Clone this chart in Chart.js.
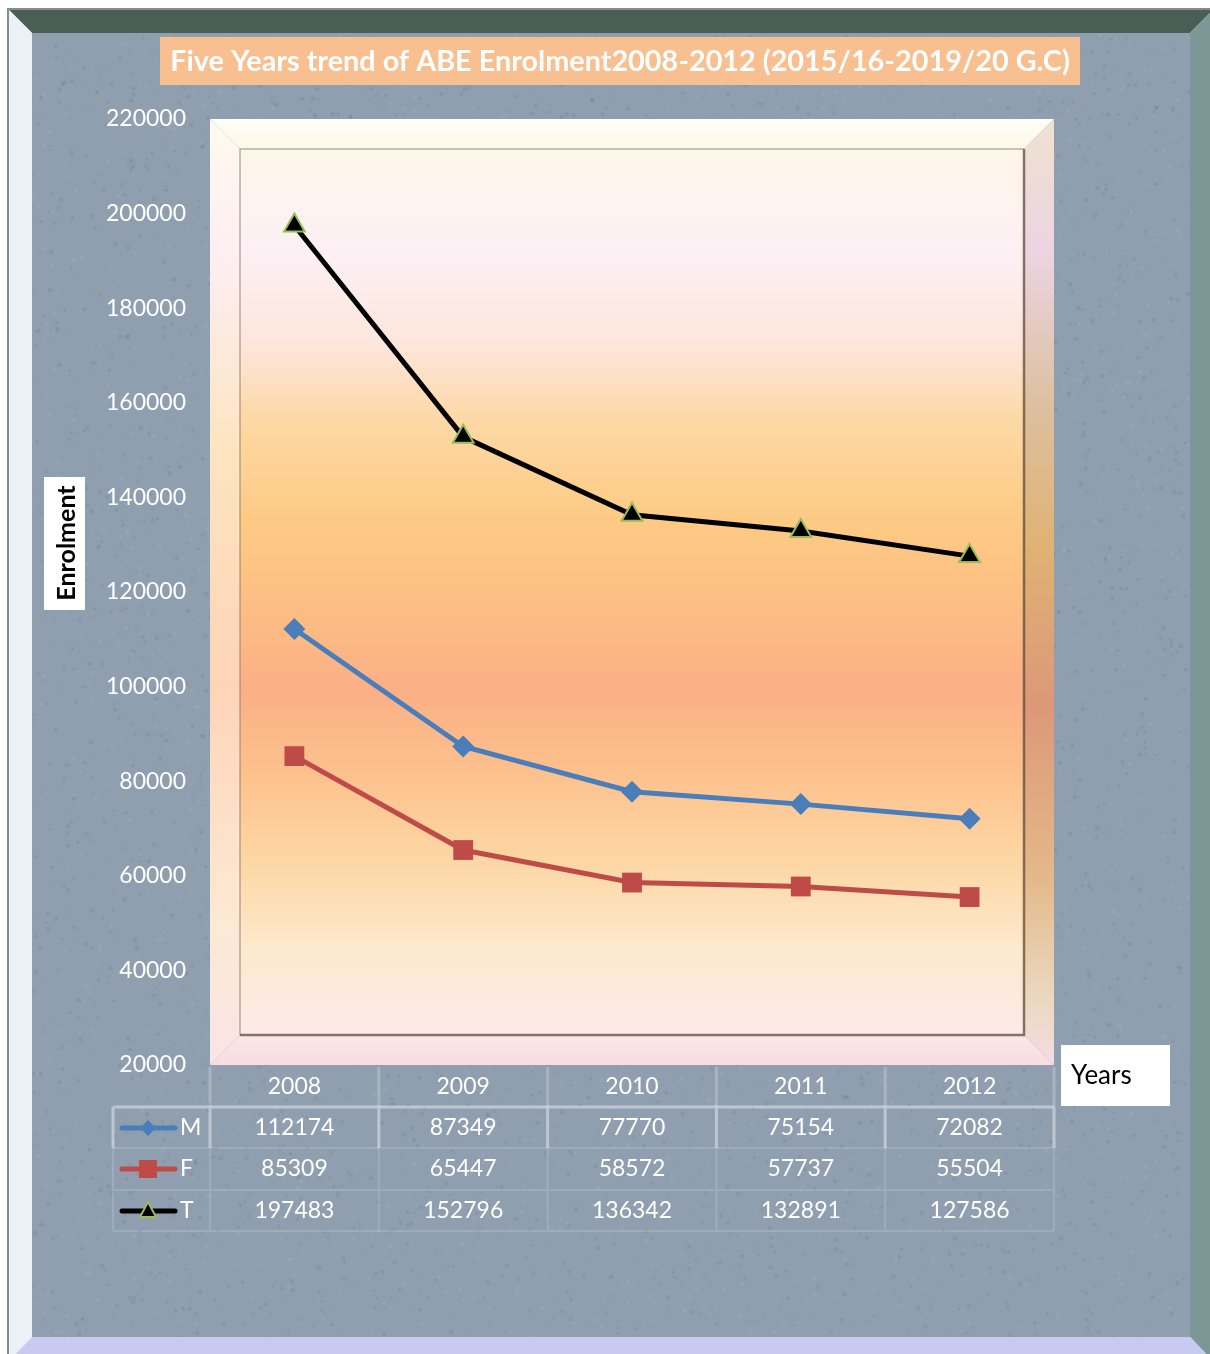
<!DOCTYPE html>
<html>
<head>
<meta charset="utf-8">
<script src="https://cdn.jsdelivr.net/npm/chart.js@4.4.0/dist/chart.umd.min.js"></script>
<style>
  html, body { margin: 0; padding: 0; background: #fff; }
  #wrap { width: 1210px; height: 1354px; position: relative; }
</style>
</head>
<body>
<div id="wrap"><canvas id="enrolment"></canvas></div>
<script>
// data
var years = ["2008", "2009", "2010", "2011", "2012"];
var male = [112174, 87349, 77770, 75154, 72082];
var female = [85309, 65447, 58572, 57737, 55504];
var total = [197483, 152796, 136342, 132891, 127586];
var seriesNames = ["M", "F", "T"];
var yMin = 20000, yMax = 220000, yStep = 20000;
var chartTitle = "Five Years trend of ABE Enrolment2008-2012 (2015/16-2019/20 G.C)";
var yTitle = "Enrolment";
var xTitle = "Years";

var FONT = "Lato, 'Open Sans', sans-serif";
var blue = "#4a7ebb", red = "#be4b48", black = "#000000", green = "#9bbb59";

function poly(ctx, pts, fill) {
  ctx.beginPath();
  ctx.moveTo(pts[0][0], pts[0][1]);
  for (var i = 1; i < pts.length; i++) ctx.lineTo(pts[i][0], pts[i][1]);
  ctx.closePath();
  ctx.fillStyle = fill;
  ctx.fill();
}

function vgrad(ctx, y0, y1, stops) {
  var g = ctx.createLinearGradient(0, y0, 0, y1);
  stops.forEach(function (s) { g.addColorStop(s[0], s[1]); });
  return g;
}

function drawFrame(ctx) {
  ctx.fillStyle = "#ffffff";
  ctx.fillRect(0, 0, 1210, 1354);
  ctx.fillStyle = "#909fb0";
  ctx.fillRect(32, 33, 1158, 1304);
  // stone speckle
  var seed = 7;
  function rnd() { seed = (seed * 16807) % 2147483647; return seed / 2147483647; }
  for (var i = 0; i < 9000; i++) {
    var x = 32 + rnd() * 1158, y = 33 + rnd() * 1304;
    var light = rnd() > 0.5;
    ctx.fillStyle = light ? "rgba(190,200,212,0.12)" : "rgba(60,70,85,0.10)";
    var s = 1 + rnd() * 3;
    ctx.fillRect(x, y, s, s);
  }
  poly(ctx, [[8, 9], [1214, 9], [1190, 33], [32, 33]], "#4b5e56");
  poly(ctx, [[8, 9], [32, 33], [32, 1337], [8, 1362]], "#eaf2f7");
  poly(ctx, [[1214, 9], [1214, 1362], [1190, 1337], [1190, 33]], "#7d9796");
  poly(ctx, [[8, 1362], [32, 1337], [1190, 1337], [1214, 1362]], "#c8caf2");
  ctx.strokeStyle = "#8a8a8a";
  ctx.lineWidth = 2;
  ctx.beginPath();
  ctx.moveTo(8, 1354); ctx.lineTo(8, 9); ctx.lineTo(1210, 9);
  ctx.stroke();
}

function drawPanel(ctx, a) {
  var L = a.left, T = a.top, R = a.right, B = a.bottom, d = 30;
  var h = B - T;
  var mainStops = [
    [0.00, "#fdf6ea"], [0.12, "#fcf0f4"], [0.22, "#fde6dc"], [0.31, "#fdd8a4"],
    [0.42, "#fdca84"], [0.53, "#fcbc84"], [0.61, "#fbaf86"], [0.70, "#fcc08c"],
    [0.80, "#fdd6a2"], [0.90, "#fde9cc"], [1.00, "#fdeaea"]
  ];
  // back face
  ctx.fillStyle = vgrad(ctx, T + d, B - d, mainStops);
  ctx.fillRect(L + d, T + d, R - L - 2 * d, h - 2 * d);
  // bevels
  poly(ctx, [[L, T], [R, T], [R - d, T + d], [L + d, T + d]],
    vgrad(ctx, T, T + d, [[0, "#fffef6"], [1, "#fdf7e8"]]));
  poly(ctx, [[L, T], [L + d, T + d], [L + d, B - d], [L, B]],
    vgrad(ctx, T, B, [[0, "#fffaee"], [0.15, "#fdeef2"], [0.35, "#fde4c0"], [0.6, "#fdd4b8"], [0.85, "#fde9d4"], [1, "#fbe4e6"]]));
  poly(ctx, [[R, T], [R, B], [R - d, B - d], [R - d, T + d]],
    vgrad(ctx, T, B, [[0, "#efe2cf"], [0.14, "#ecd4e2"], [0.3, "#dcc0a0"], [0.45, "#e0b274"], [0.62, "#dc9878"], [0.8, "#e4b888"], [0.93, "#ecd8c0"], [1, "#f3dde2"]]));
  poly(ctx, [[L, B], [L + d, B - d], [R - d, B - d], [R, B]],
    vgrad(ctx, B - d, B, [[0, "#fce6e8"], [1, "#f9dde0"]]));
  // edges of the inner face
  ctx.lineWidth = 1.5;
  ctx.strokeStyle = "rgba(130,115,100,0.55)";
  ctx.beginPath();
  ctx.moveTo(L + d, B - d); ctx.lineTo(L + d, T + d); ctx.lineTo(R - d, T + d);
  ctx.stroke();
  ctx.lineWidth = 2.5;
  ctx.strokeStyle = "rgba(95,75,55,0.75)";
  ctx.beginPath();
  ctx.moveTo(R - d, T + d); ctx.lineTo(R - d, B - d); ctx.lineTo(L + d, B - d);
  ctx.stroke();
}

function legendKey(ctx, kind, x, y) {
  var colors = { M: blue, F: red, T: black };
  ctx.strokeStyle = colors[kind];
  ctx.lineWidth = 5;
  ctx.lineCap = "round";
  ctx.beginPath();
  ctx.moveTo(x - 26, y); ctx.lineTo(x + 27, y);
  ctx.stroke();
  ctx.lineCap = "butt";
  ctx.beginPath();
  if (kind === "M") {
    ctx.moveTo(x, y - 8); ctx.lineTo(x + 8, y); ctx.lineTo(x, y + 8); ctx.lineTo(x - 8, y);
    ctx.closePath(); ctx.fillStyle = blue; ctx.fill();
  } else if (kind === "F") {
    ctx.fillStyle = red; ctx.fillRect(x - 9, y - 9, 18, 18);
  } else {
    ctx.moveTo(x, y - 9); ctx.lineTo(x + 8, y + 6); ctx.lineTo(x - 8, y + 6);
    ctx.closePath(); ctx.fillStyle = black; ctx.fill();
    ctx.strokeStyle = green; ctx.lineWidth = 2; ctx.stroke();
  }
}

function drawTable(chart) {
  var ctx = chart.ctx, a = chart.chartArea, xs = chart.scales.x;
  var centers = years.map(function (y, i) { return xs.getPixelForValue(i); });
  var bounds = [a.left];
  for (var i = 0; i < centers.length - 1; i++) bounds.push((centers[i] + centers[i + 1]) / 2);
  bounds.push(a.right);
  var keyLeft = 113;

  // faint grid for F / T rows
  ctx.strokeStyle = "rgba(255,255,255,0.14)";
  ctx.lineWidth = 2;
  ctx.beginPath();
  [1148, 1190, 1231].forEach(function (y) { ctx.moveTo(keyLeft, y); ctx.lineTo(a.right, y); });
  [keyLeft].concat(bounds).forEach(function (x) { ctx.moveTo(x, 1148); ctx.lineTo(x, 1231); });
  ctx.stroke();
  // header column separators
  ctx.strokeStyle = "rgba(255,255,255,0.22)";
  ctx.lineWidth = 3;
  ctx.beginPath();
  bounds.forEach(function (x) { ctx.moveTo(x, 1067); ctx.lineTo(x, 1107); });
  ctx.stroke();
  // brighter M row outline
  ctx.strokeStyle = "rgba(255,255,255,0.42)";
  ctx.lineWidth = 3;
  ctx.beginPath();
  ctx.moveTo(keyLeft, 1107); ctx.lineTo(a.right, 1107);
  [keyLeft].concat(bounds).forEach(function (x) { ctx.moveTo(x, 1107); ctx.lineTo(x, 1148); });
  ctx.stroke();

  ctx.fillStyle = "#ffffff";
  ctx.font = "23px " + FONT;
  ctx.textAlign = "center";
  ctx.textBaseline = "middle";
  var mids = [1087, 1128, 1169, 1211];
  var tableRows = [years, male, female, total];
  tableRows.forEach(function (vals, r) {
    vals.forEach(function (v, i) { ctx.fillText(String(v), centers[i], mids[r]); });
  });
  ctx.textAlign = "left";
  seriesNames.forEach(function (n, r) {
    legendKey(ctx, n, 148, mids[r + 1]);
    ctx.fillStyle = "#ffffff";
    ctx.fillText(n, 180, mids[r + 1]);
  });
}

function drawLabels(ctx) {
  // title box
  ctx.fillStyle = "#f8bf90";
  ctx.fillRect(160, 37, 920, 48);
  var size = 28;
  ctx.font = "bold " + size + "px " + FONT;
  var w = ctx.measureText(chartTitle).width;
  size = size * 900 / w;
  ctx.font = "bold " + size.toFixed(2) + "px " + FONT;
  ctx.fillStyle = "#ffffff";
  ctx.textAlign = "center";
  ctx.textBaseline = "middle";
  ctx.fillText(chartTitle, 620, 62);

  // y axis title
  ctx.fillStyle = "#ffffff";
  ctx.fillRect(44, 477, 41, 133);
  ctx.save();
  ctx.translate(66, 543);
  ctx.rotate(-Math.PI / 2);
  ctx.fillStyle = "#000000";
  ctx.font = "bold 25px " + FONT;
  ctx.fillText(yTitle, 0, 1);
  ctx.restore();

  // x axis title
  ctx.fillStyle = "#ffffff";
  ctx.fillRect(1061, 1045, 109, 61);
  ctx.fillStyle = "#000000";
  ctx.font = "26px " + FONT;
  ctx.textAlign = "left";
  ctx.fillText(xTitle, 1071, 1076);
}

var decor = {
  id: "decor",
  beforeDraw: function (chart) {
    drawFrame(chart.ctx);
    drawPanel(chart.ctx, chart.chartArea);
  },
  afterDraw: function (chart) {
    drawTable(chart);
    drawLabels(chart.ctx);
  }
};

new Chart(document.getElementById("enrolment"), {
  type: "line",
  data: {
    labels: years,
    datasets: [
      { label: "M", data: male, borderColor: blue, backgroundColor: blue, borderWidth: 5,
        pointStyle: "rectRot", pointRadius: 11, pointBorderWidth: 0 },
      { label: "F", data: female, borderColor: red, backgroundColor: red, borderWidth: 5,
        pointStyle: "rect", pointRadius: 14, pointBorderWidth: 0 },
      { label: "T", data: total, borderColor: black, backgroundColor: black, borderWidth: 5,
        pointStyle: "triangle", pointRadius: 12, pointBorderColor: green, pointBorderWidth: 2 }
    ]
  },
  options: {
    responsive: true,
    maintainAspectRatio: false,
    devicePixelRatio: 1,
    animation: false,
    layout: { padding: { left: 0, top: 119, right: 156, bottom: 0 } },
    plugins: { legend: { display: false }, tooltip: { enabled: false } },
    elements: { line: { tension: 0, fill: false } },
    scales: {
      x: {
        offset: true,
        grid: { display: false, drawTicks: false },
        border: { display: false },
        ticks: { display: false },
        afterFit: function (s) { s.height = 289; }
      },
      y: {
        min: yMin, max: yMax,
        grid: { display: false, drawTicks: false },
        border: { display: false },
        ticks: {
          stepSize: yStep, color: "#ffffff", padding: 24,
          font: { family: FONT, size: 23 },
          callback: function (v) { return String(v); }
        },
        afterFit: function (s) { s.width = 210; }
      }
    }
  },
  plugins: [decor]
});
</script>
</body>
</html>
